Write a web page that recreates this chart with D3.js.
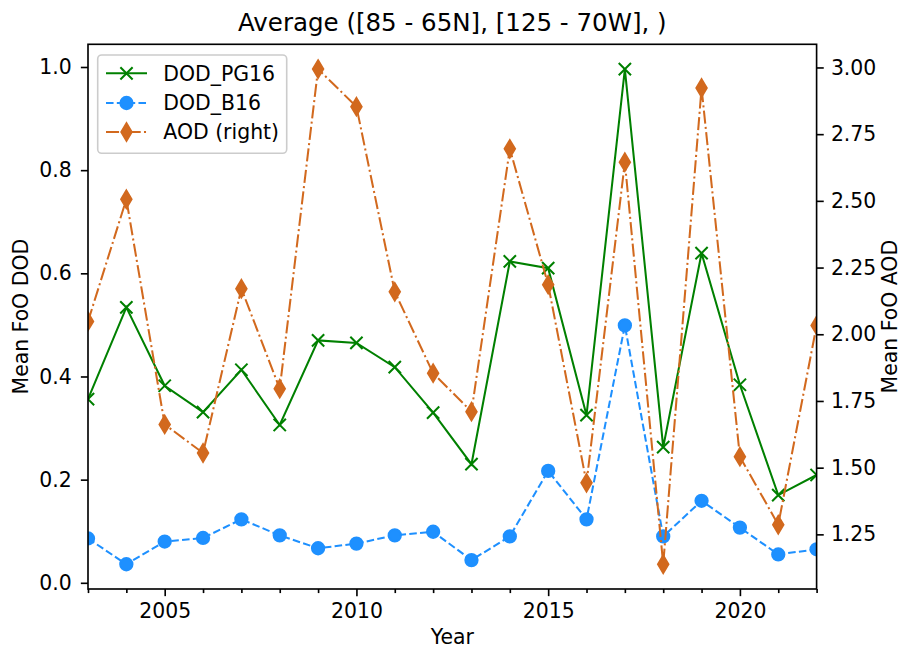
<!DOCTYPE html>
<html>
<head>
<meta charset="utf-8">
<script src="https://cdn.jsdelivr.net/npm/d3@7"></script>
<style>
  html, body { margin: 0; padding: 0; background: #fff; }
  svg { display: block; font-family: "DejaVu Sans", sans-serif; }
</style>
</head>
<body>
<script>
// ---- data ----
const years = [2003, 2004, 2005, 2006, 2007, 2008, 2009, 2010, 2011, 2012,
               2013, 2014, 2015, 2016, 2017, 2018, 2019, 2020, 2021, 2022];
const dodPG16 = [0.356, 0.534, 0.382, 0.331, 0.413, 0.306, 0.470, 0.465, 0.418, 0.330,
                 0.230, 0.623, 0.610, 0.325, 0.996, 0.263, 0.639, 0.384, 0.170, 0.209];
const dodB16 = [0.086, 0.036, 0.080, 0.087, 0.123, 0.092, 0.067, 0.076, 0.092, 0.099,
                0.044, 0.090, 0.217, 0.123, 0.499, 0.090, 0.159, 0.107, 0.055, 0.065];
const aod = [2.048, 2.506, 1.662, 1.555, 2.171, 1.796, 2.994, 2.853, 2.159, 1.854,
             1.710, 2.695, 2.186, 1.443, 2.645, 1.138, 2.923, 1.541, 1.286, 2.033];
const xMajorTicks = [2005, 2010, 2015, 2020];
const leftTicks = [0.0, 0.2, 0.4, 0.6, 0.8, 1.0];
const rightTicks = [1.25, 1.50, 1.75, 2.00, 2.25, 2.50, 2.75, 3.00];
const titleText = "Average ([85 - 65N], [125 - 70W], )";
const seriesNames = ["DOD_PG16", "DOD_B16", "AOD (right)"];

// ---- layout ----
const W = 901, H = 648;
const pt = 2.042; // px per point
const m = { left: 88, right: W - 816.6, top: 44.3, bottom: H - 589 };
const pw = W - m.left - m.right, ph = H - m.top - m.bottom;

function padded(arrs) {
  const all = arrs.flat();
  const lo = d3.min(all), hi = d3.max(all), p = (hi - lo) * 0.05;
  return [lo - p, hi + p];
}

const x = d3.scaleLinear().domain([years[0], years[years.length - 1]]).range([0, pw]);
const yL = d3.scaleLinear().domain(padded([dodPG16, dodB16])).range([ph, 0]);
const yR = d3.scaleLinear().domain(padded([aod])).range([ph, 0]);

const svg = d3.select("body").append("svg").attr("width", W).attr("height", H);
svg.append("rect").attr("width", W).attr("height", H).attr("fill", "#fff");

svg.append("defs").append("clipPath").attr("id", "clip")
  .append("rect").attr("width", pw).attr("height", ph);

const g = svg.append("g").attr("transform", `translate(${m.left},${m.top})`);

const fs = 10 * pt;
const textColor = "#000";
const tickLen = 3.5 * pt, minorLen = 2 * pt, tickPad = 3.5 * pt;

// axes
const xAxis = g.append("g").attr("transform", `translate(0,${ph})`)
  .call(d3.axisBottom(x).tickValues(xMajorTicks).tickFormat(d3.format("d")).tickSizeOuter(0).tickSize(tickLen).tickPadding(tickPad));
const xMinor = g.append("g").attr("transform", `translate(0,${ph})`)
  .call(d3.axisBottom(x).tickValues(years.filter(v => !xMajorTicks.includes(v))).tickFormat("").tickSizeOuter(0).tickSize(minorLen));

const yAxisL = g.append("g")
  .call(d3.axisLeft(yL).tickValues(leftTicks).tickFormat(d3.format(".1f")).tickSizeOuter(0).tickSize(tickLen).tickPadding(tickPad + 2));
const yAxisR = g.append("g").attr("transform", `translate(${pw},0)`)
  .call(d3.axisRight(yR).tickValues(rightTicks).tickFormat(d3.format(".2f")).tickSizeOuter(0).tickSize(tickLen).tickPadding(tickPad));

[xAxis, xMinor, yAxisL, yAxisR].forEach(a => {
  a.selectAll("text").attr("font-size", fs).attr("fill", textColor).attr("font-family", "DejaVu Sans");
  a.selectAll("line").attr("stroke", "#000").attr("stroke-width", 0.8 * pt);
  a.select(".domain").remove();
});

// plot area
const plot = g.append("g").attr("clip-path", "url(#clip)");

const lineL = d3.line().x((d, i) => x(years[i])).y(d => yL(d));
const lineR = d3.line().x((d, i) => x(years[i])).y(d => yR(d));

const green = "#008000", blue = "#1E90FF", orange = "#D2691E";
const lw = 1 * pt;
const ms = 6 * pt, mew = 1 * pt;
const dashB = `${3.7 * lw},${1.6 * lw}`;
const dashA = `${6.4 * lw},${1.6 * lw},${1 * lw},${1.6 * lw}`;

const xMarkerPath = s => `M${-s},${-s}L${s},${s}M${-s},${s}L${s},${-s}`;
const diamondPath = (h, w) => `M0,${-h}L${w},0L0,${h}L${-w},0Z`;
const dh = ms * Math.SQRT2 / 2, dw = dh * 0.6;

// PG16
plot.append("path").datum(dodPG16).attr("d", lineL)
  .attr("fill", "none").attr("stroke", green).attr("stroke-width", lw);
plot.selectAll(".mx").data(dodPG16).enter().append("path")
  .attr("transform", (d, i) => `translate(${x(years[i])},${yL(d)})`)
  .attr("d", xMarkerPath(ms / 2)).attr("stroke", green).attr("stroke-width", mew).attr("fill", "none");

// B16
plot.append("path").datum(dodB16).attr("d", lineL)
  .attr("fill", "none").attr("stroke", blue).attr("stroke-width", lw)
  .attr("stroke-dasharray", dashB);
plot.selectAll(".mo").data(dodB16).enter().append("circle")
  .attr("cx", (d, i) => x(years[i])).attr("cy", d => yL(d)).attr("r", ms / 2)
  .attr("fill", blue).attr("stroke", blue).attr("stroke-width", mew);

// AOD (right)
plot.append("path").datum(aod).attr("d", lineR)
  .attr("fill", "none").attr("stroke", orange).attr("stroke-width", lw)
  .attr("stroke-dasharray", dashA);
plot.selectAll(".md").data(aod).enter().append("path")
  .attr("transform", (d, i) => `translate(${x(years[i])},${yR(d)})`)
  .attr("d", diamondPath(dh, dw)).attr("fill", orange)
  .attr("stroke", orange).attr("stroke-width", mew).attr("stroke-linejoin", "miter");

// frame
g.append("rect").attr("width", pw).attr("height", ph)
  .attr("fill", "none").attr("stroke", "#000").attr("stroke-width", 0.8 * pt);

// legend
const lg = svg.append("g");
lg.append("rect").attr("x", 97.7).attr("y", 55).attr("width", 189).attr("height", 98.3)
  .attr("rx", 4).attr("fill", "#fff").attr("fill-opacity", 0.8)
  .attr("stroke", "#cccccc").attr("stroke-width", 1.6);
const legY = [73.3, 103, 132];
const lx0 = 106, lx1 = 147, lxm = (106 + 147) / 2, ltx = 163.3;
// PG16
lg.append("line").attr("x1", lx0).attr("x2", lx1).attr("y1", legY[0]).attr("y2", legY[0])
  .attr("stroke", green).attr("stroke-width", lw);
lg.append("path").attr("transform", `translate(${lxm},${legY[0]})`).attr("d", xMarkerPath(ms / 2))
  .attr("stroke", green).attr("stroke-width", mew);
// B16
lg.append("line").attr("x1", lx0).attr("x2", lx1).attr("y1", legY[1]).attr("y2", legY[1])
  .attr("stroke", blue).attr("stroke-width", lw).attr("stroke-dasharray", dashB);
lg.append("circle").attr("cx", lxm).attr("cy", legY[1]).attr("r", ms / 2)
  .attr("fill", blue).attr("stroke", blue).attr("stroke-width", mew);
// AOD
lg.append("line").attr("x1", lx0).attr("x2", lx1).attr("y1", legY[2]).attr("y2", legY[2])
  .attr("stroke", orange).attr("stroke-width", lw).attr("stroke-dasharray", dashA);
lg.append("path").attr("transform", `translate(${lxm},${legY[2]})`).attr("d", diamondPath(dh, dw))
  .attr("fill", orange).attr("stroke", orange).attr("stroke-width", mew);
lg.selectAll(".lt").data(seriesNames).enter().append("text")
  .attr("x", ltx).attr("y", (d, i) => legY[i]).attr("dy", "0.36em")
  .attr("font-size", fs).attr("fill", textColor).text(d => d);

// titles
svg.append("text").attr("x", m.left + pw / 2).attr("y", 31).attr("text-anchor", "middle")
  .attr("font-size", 12 * pt).attr("fill", textColor).text(titleText);
svg.append("text").attr("x", m.left + pw / 2).attr("y", 644).attr("text-anchor", "middle")
  .attr("font-size", fs).attr("fill", textColor).text("Year");
svg.append("text").attr("transform", `translate(28,${m.top + ph / 2}) rotate(-90)`)
  .attr("text-anchor", "middle").attr("font-size", fs).attr("fill", textColor).text("Mean FoO DOD");
svg.append("text").attr("transform", `translate(897,${m.top + ph / 2}) rotate(-90)`)
  .attr("text-anchor", "middle").attr("font-size", fs).attr("fill", textColor).text("Mean FoO AOD");
</script>
</body>
</html>
